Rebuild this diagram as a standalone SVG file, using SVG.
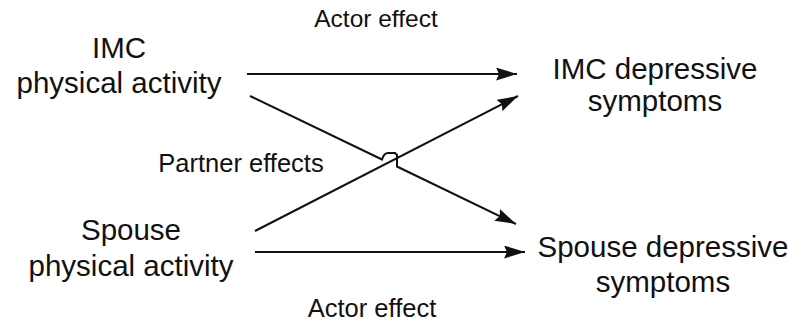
<svg xmlns="http://www.w3.org/2000/svg" width="801" height="329" viewBox="0 0 801 329">
<defs>
<marker id="ah" markerUnits="userSpaceOnUse" markerWidth="24" markerHeight="14" refX="21" refY="6.5" orient="auto">
<path d="M0,0 L21,6.5 L0,13 L3,6.5 z" fill="#111"/>
</marker>
<style>
text{font-family:"Liberation Sans",Arial,sans-serif;fill:#111;text-anchor:middle}
.n{font-size:29.5px}
.l{font-size:25.5px}
.c{fill:none;stroke:#111;stroke-width:2}
</style>
</defs>
<rect width="801" height="329" fill="#fff"/>
<g id="imc-pa"><text class="n" x="119" y="58">IMC</text><text class="n" x="119" y="93">physical activity</text></g>
<g id="spouse-pa"><text class="n" x="131" y="240">Spouse</text><text class="n" x="131" y="276">physical activity</text></g>
<g id="imc-dep"><text class="n" x="655" y="79">IMC depressive</text><text class="n" x="655" y="111">symptoms</text></g>
<g id="spouse-dep"><text class="n" x="663" y="257">Spouse depressive</text><text class="n" x="663" y="292">symptoms</text></g>
<g id="connectors">
<line class="c" x1="247" y1="74" x2="517" y2="74" marker-end="url(#ah)"/>
<line class="c" x1="255" y1="252" x2="525" y2="252" marker-end="url(#ah)"/>
<line class="c" x1="255" y1="231" x2="518" y2="96" marker-end="url(#ah)"/>
<path class="c" d="M250,96 L382,159.5 Q384,153 388,153 L395,153 L397,155 L397,166.5 L516,224" marker-end="url(#ah)"/>
</g>
<g id="labels">
<text class="l" x="376" y="27" style="font-size:24.5px">Actor effect</text>
<text class="l" x="241" y="172">Partner effects</text>
<text class="l" x="372" y="317">Actor effect</text>
</g>
</svg>
